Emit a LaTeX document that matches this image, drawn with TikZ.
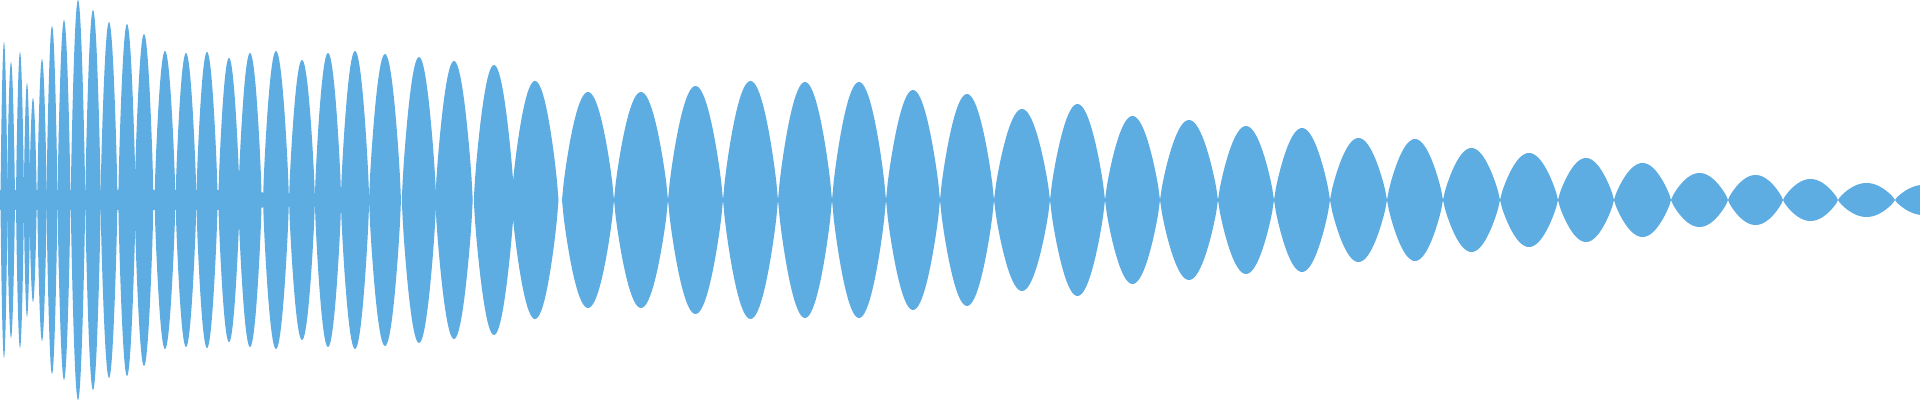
\documentclass[tikz,border=0pt]{standalone}
\definecolor{wave}{RGB}{93,172,226}
\tikzset{lobe/.style={fill=wave, draw=none}}
\begin{document}
\begin{tikzpicture}[x=0.01cm, y=0.01cm]
    % Frame
    \useasboundingbox (0,-200) rectangle (1920,200);

    % Central band of the carrier
    \fill[wave] (0,-10) -- (250,-10) -- (290,-2) -- (290,2) -- (250,10) -- (0,10) -- cycle;

    % Lobes: centre / half width / amplitude
    \foreach \c/\w/\a in {4/3.5/158, 11/4/138, 20/4/148, 27/3.25/117, 33/3.75/102,
        42/4.75/141, 52/5.5/174, 64/6.5/180, 78/7.25/200, 93/7.75/190,
        109/8.5/178, 127/8.75/176, 144/9.5/166, 165/10.5/149, 186/10.5/147,
        207/10.75/148, 229/10.75/142, 250/11.75/147, 276/13/149, 302/13/140,
        328/13.25/147, 355/14.25/149, 385/16/146, 419/17.25/143, 454/18.75/139,
        494/20.25/135, 535/23.5/119, 588/26/108, 641/27/108, 695.5/27.5/114,
        750.5/27.5/119, 805/27/118, 859/27/118, 913/27/110, 967/27/106,
        1022/28/91, 1077.5/27.5/96, 1132.5/27.5/84, 1189/29/80, 1246/28/74,
        1302/28/72, 1358.5/28.5/62, 1415/28/61, 1471.5/28.5/52, 1529/29/47,
        1586/28/42, 1642.5/28.5/37, 1699.5/28.5/27, 1755.5/27.5/25, 1810.5/27.5/21,
        1866.5/28.5/17, 1923/28/15}
        \fill[lobe] plot[domain=0:180, samples=31] ({\c-\w+\x/180*2*\w}, {\a*abs(sin(\x))^0.8})
            -- plot[domain=180:0, samples=31] ({\c-\w+\x/180*2*\w}, {-\a*abs(sin(\x))^0.8}) -- cycle;
\end{tikzpicture}
\end{document}
